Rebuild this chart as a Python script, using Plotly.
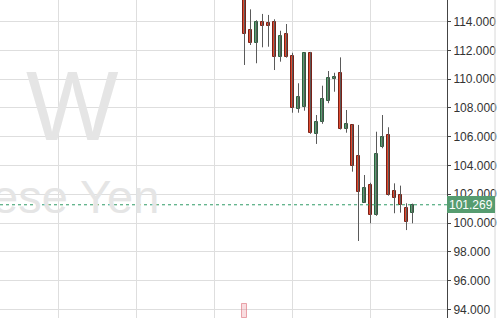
import plotly.graph_objects as go

# Weekly USD/JPY candles (index 0..28)
idx = list(range(29))
opens  = [116.60, 113.42, 112.50, 113.96, 113.90, 113.96, 111.52, 113.14, 111.61, 107.91,
          108.09, 111.84, 106.17, 107.00, 108.51, 110.02, 110.41, 106.52, 106.80, 104.66,
          101.41, 102.64, 100.56, 105.27, 106.10, 102.23, 101.93, 101.02, 100.68]
highs  = [117.00, 114.86, 114.10, 114.54, 114.47, 114.17, 113.37, 113.84, 111.84, 109.72,
          111.85, 111.90, 107.51, 109.55, 110.57, 110.45, 111.52, 107.86, 106.85, 106.82,
          103.34, 102.80, 106.35, 107.51, 106.66, 102.76, 102.60, 101.37, 101.35]
lows   = [110.99, 112.38, 111.11, 112.22, 112.26, 110.64, 111.22, 111.50, 107.67, 107.67,
          107.81, 106.20, 105.50, 106.90, 108.33, 109.13, 106.50, 106.28, 103.57, 98.75,
          101.40, 99.98, 100.50, 105.20, 101.90, 100.68, 100.72, 99.51, 99.98]
closes = [113.12, 112.50, 113.96, 113.72, 113.70, 111.52, 113.00, 111.57, 108.02, 108.74,
          111.80, 106.24, 107.05, 108.60, 110.06, 110.13, 106.52, 106.87, 103.99, 102.14,
          102.41, 100.56, 104.78, 105.96, 101.95, 101.72, 101.25, 100.09, 101.269]
volume = [4.4] + [None] * 28

ytick_vals = [94, 96, 98, 100, 102, 104, 106, 108, 110, 112, 114]
ytick_text = ["%.3f" % v for v in ytick_vals]

UP_FILL, UP_LINE = "#5c9e74", "#2d5e3e"
DN_FILL, DN_LINE = "#df4a30", "#7a2016"

fig = go.Figure()

# volume (only first bar visible in view)
fig.add_trace(go.Bar(x=idx, y=volume, yaxis="y2", width=0.8,
                     marker=dict(color="rgba(230,120,130,0.25)",
                                 line=dict(color="rgba(220,110,120,0.6)", width=1)),
                     hoverinfo="skip", showlegend=False))

# wicks
wx, wy = [], []
for i, h, l in zip(idx, highs, lows):
    wx += [i, i, None]
    wy += [l, h, None]
fig.add_trace(go.Scatter(x=wx, y=wy, mode="lines",
                         line=dict(color="#5a5a5a", width=1),
                         hoverinfo="skip", showlegend=False))

# bodies
base = [min(o, c) for o, c in zip(opens, closes)]
height = [max(abs(c - o), 0.08) for o, c in zip(opens, closes)]
fills = [UP_FILL if c >= o else DN_FILL for o, c in zip(opens, closes)]
lines = [UP_LINE if c >= o else DN_LINE for o, c in zip(opens, closes)]
fig.add_trace(go.Bar(x=idx, y=height, base=base, width=0.62,
                     marker=dict(color=fills, line=dict(color=lines, width=1)),
                     showlegend=False))

last = closes[-1]
fig.add_hline(y=last, line=dict(color="#2f9a66", width=1, dash="dot"))

fig.add_annotation(xref="paper", yref="y", x=1.0, y=last, xanchor="left",
                   text="%.3f" % last, showarrow=False,
                   bgcolor="#569c70", bordercolor="#569c70", borderpad=1,
                   width=44, height=13, align="left",
                   font=dict(family="Arial, Liberation Sans", size=12, color="white"))

# watermark
fig.add_annotation(xref="paper", yref="paper", x=72 / 447, y=1 - 106 / 318,
                   text="W", showarrow=False, xanchor="center", yanchor="middle",
                   font=dict(family="Liberation Sans, Arial", size=98, color="#e5e5e5"))
fig.add_annotation(xref="paper", yref="paper", x=161 / 447, y=1 - 196 / 318,
                   text="Japanese Yen", showarrow=False, xanchor="right", yanchor="middle",
                   font=dict(family="Liberation Sans, Arial", size=47, color="#e5e5e5"))

# right border of axis panel
fig.add_shape(type="line", xref="paper", yref="paper", x0=495 / 447, x1=495 / 447,
              y0=0, y1=1, line=dict(color="#d8d8d8", width=1))

fig.update_layout(
    width=502, height=318,
    margin=dict(l=0, r=55, t=0, b=0),
    plot_bgcolor="white", paper_bgcolor="white",
    barmode="overlay", bargap=0,
    xaxis=dict(range=[-40.75, 33.75], showticklabels=False, ticks="",
               tick0=8, dtick=13, showgrid=True, gridcolor="#dedede", gridwidth=1,
               zeroline=False, showline=False),
    yaxis=dict(range=[93.395, 115.509], side="right", tickvals=ytick_vals,
               ticktext=ytick_text, showgrid=True, gridcolor="#dedede", gridwidth=1,
               ticks="outside", ticklen=3, tickcolor="#444", showline=True,
               linecolor="#444", linewidth=1, zeroline=False,
               tickfont=dict(family="Arial, Liberation Sans", size=12, color="#333")),
    yaxis2=dict(range=[0, 100], overlaying="y", visible=False),
    showlegend=False,
)

fig.write_html("out.html")
